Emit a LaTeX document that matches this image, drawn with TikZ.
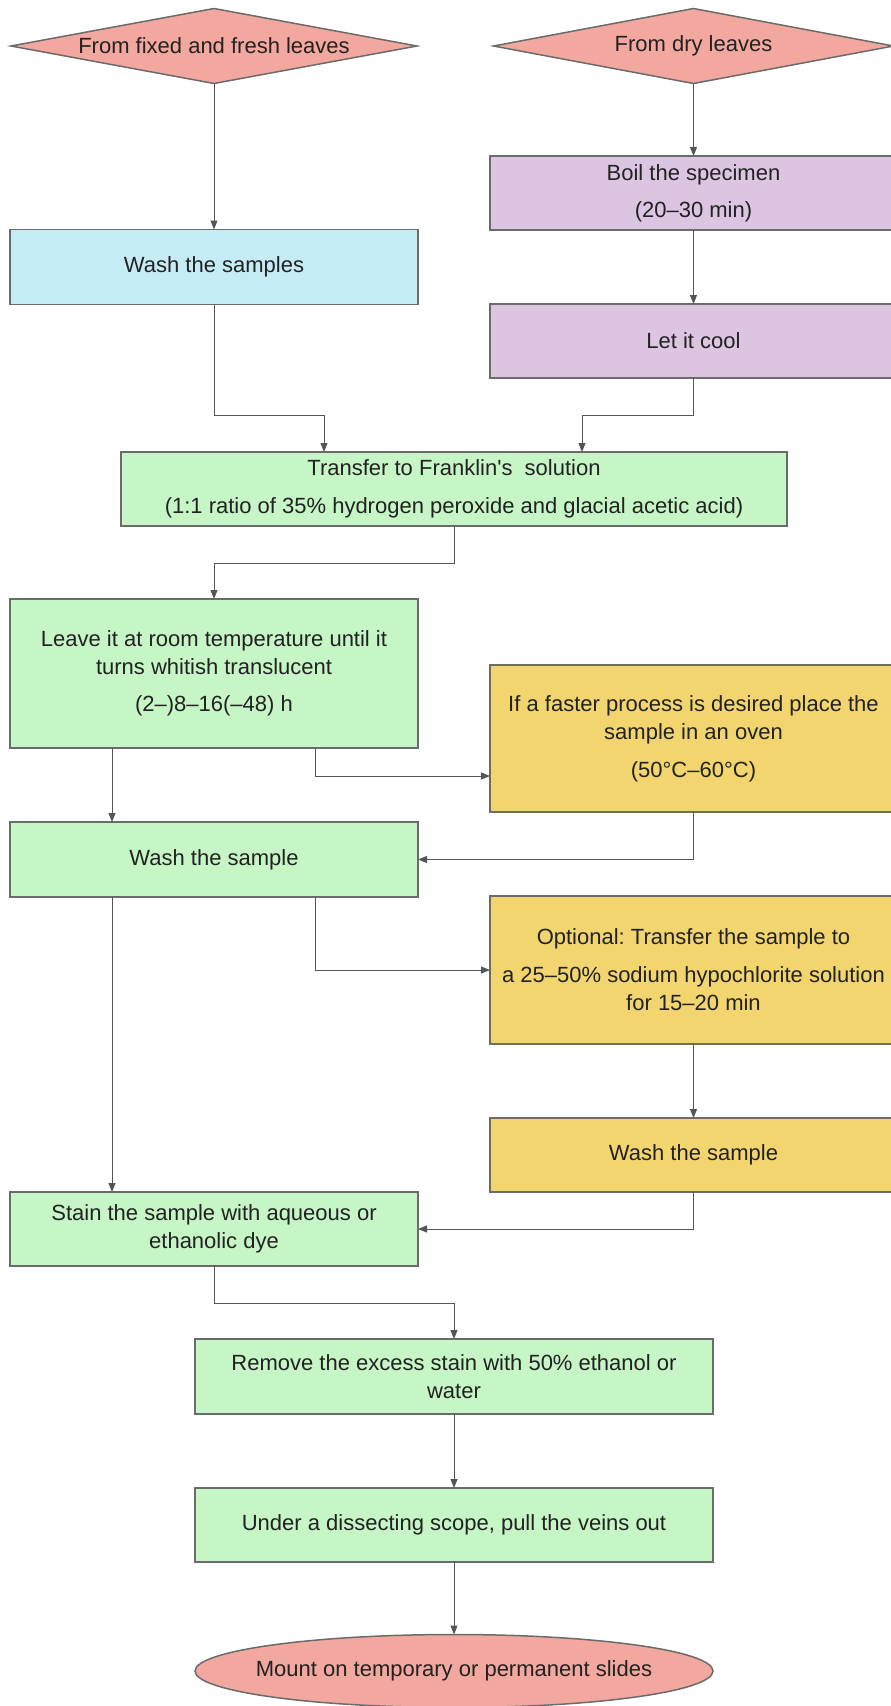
\documentclass[tikz,border=0pt]{standalone}
\usepackage{fontspec}
\setmainfont{Liberation Sans}
\frenchspacing
\usetikzlibrary{shapes.geometric,arrows.meta,calc}
\definecolor{salmon}{HTML}{F2A89E}
\definecolor{cyanbox}{HTML}{C5ECF5}
\definecolor{lavbox}{HTML}{DBC5E1}
\definecolor{greenbox}{HTML}{C6F5C6}
\definecolor{yellowbox}{HTML}{F2D56F}
\definecolor{bordergray}{HTML}{6B6B6B}
\definecolor{linegray}{HTML}{555555}
\definecolor{textdark}{HTML}{222222}
\tikzset{
  base/.style={draw=bordergray, line width=1.5pt, inner sep=0pt, outer sep=0pt,
    align=center, text=textdark, font=\fontsize{22pt}{28pt}\selectfont},
  boxrect/.style={base, rectangle, minimum width=#1},
  decision/.style={base, diamond, aspect=5.4, fill=salmon, minimum height=75pt},
  terminal/.style={base, ellipse, fill=salmon, inner xsep=-20pt},
  arr/.style={draw=linegray, line width=1pt, -{Triangle[length=9pt,width=7pt]}}
}
\begin{document}
\begin{tikzpicture}[x=1pt,y=-1pt]
\useasboundingbox (0,0) rectangle (891,1706);
\clip (0,0) rectangle (891,1706);
% start diamonds
\node[decision, minimum width=406pt] (d1) at (214,46) {From fixed and fresh leaves};
\node[decision, minimum width=400pt] (d2) at (693.5,46) {From dry leaves};
% left column
\node[boxrect=408pt, fill=cyanbox, minimum height=75pt] (wash1) at (214,267) {Wash the samples};
% right column (purple)
\node[boxrect=407pt, fill=lavbox, minimum height=74pt] (boil) at (693.5,193) {Boil the specimen\\[9pt](20–30 min)};
\node[boxrect=407pt, fill=lavbox, minimum height=74pt] (cool) at (693.5,341) {Let it cool};
% Franklin
\node[boxrect=666pt, fill=greenbox, minimum height=74pt] (frank) at (454,489) {Transfer to Franklin\textquotesingle s~ solution\\[10pt](1:1 ratio of 35\% hydrogen peroxide and glacial acetic acid)};
% Leave / faster
\node[boxrect=408pt, fill=greenbox, minimum height=149pt] (leave) at (214,673.5) {Leave it at room temperature until it\\turns whitish translucent\\[9pt](2–)8–16(–48) h};
\node[boxrect=407pt, fill=yellowbox, minimum height=147pt] (faster) at (693.5,738.5) {If a faster process is desired place the\\sample in an oven\\[10pt](50°C–60°C)};
% wash 2 / optional
\node[boxrect=408pt, fill=greenbox, minimum height=75pt] (wash2) at (214,859.5) {Wash the sample};
\node[boxrect=407pt, fill=yellowbox, minimum height=148pt] (opt) at (693.5,970) {Optional: Transfer the sample to\\[10pt]a 25–50\% sodium hypochlorite solution\\for 15–20 min};
\node[boxrect=407pt, fill=yellowbox, minimum height=74pt] (wash3) at (693.5,1155) {Wash the sample};
% stain
\node[boxrect=408pt, fill=greenbox, minimum height=74pt] (stain) at (214,1229) {Stain the sample with aqueous or\\ethanolic dye};
\node[boxrect=518pt, fill=greenbox, minimum height=75pt] (remove) at (454,1376.5) {Remove the excess stain with 50\% ethanol or\\water};
\node[boxrect=518pt, fill=greenbox, minimum height=74pt] (under) at (454,1525) {Under a dissecting scope, pull the veins out};
\node[terminal, minimum width=518pt, minimum height=73pt] (mount) at (454,1671) {Mount on temporary or permanent slides};
% connectors
\draw[arr] (d1.south) -- (wash1.north);
\draw[arr] (d2.south) -- (boil.north);
\draw[arr] (boil.south) -- (cool.north);
\draw[arr] (wash1.south) -- ++(0,111) -| ($(frank.north)+(-130,0)$);
\draw[arr] (cool.south) -- ++(0,37) -| ($(frank.north)+(128,0)$);
\draw[arr] (frank.south) -- ++(0,37) -| (leave.north);
\draw[arr] ($(leave.south)+(-102,0)$) -- ($(wash2.north)+(-102,0)$);
\draw[arr] ($(leave.south)+(101,0)$) |- ($(faster.west)+(0,37.5)$);
\draw[arr] (faster.south) |- (wash2.east);
\draw[arr] ($(wash2.south)+(101,0)$) |- (opt.west);
\draw[arr] (opt.south) -- (wash3.north);
\draw[arr] ($(wash2.south)+(-102,0)$) -- ($(stain.north)+(-102,0)$);
\draw[arr] (wash3.south) |- (stain.east);
\draw[arr] (stain.south) -- ++(0,37) -| (remove.north);
\draw[arr] (remove.south) -- (under.north);
\draw[arr] (under.south) -- (mount.north);
\end{tikzpicture}
\end{document}
